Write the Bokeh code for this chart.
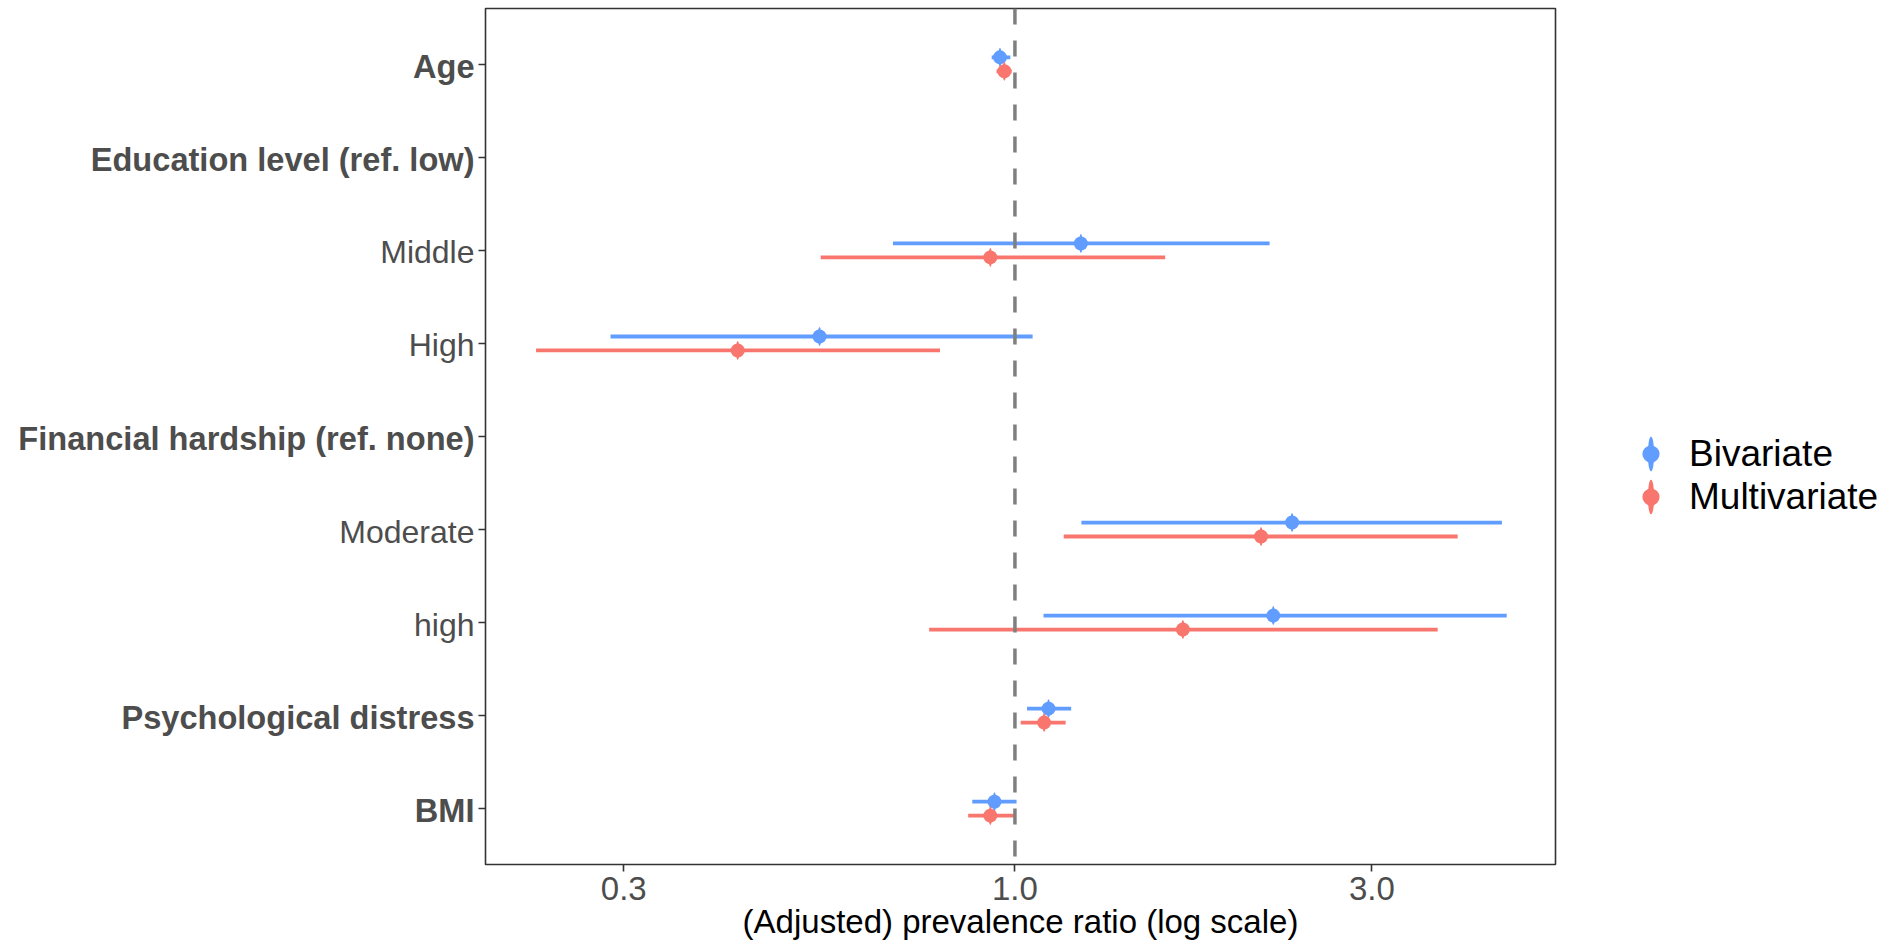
from bokeh.plotting import figure
from bokeh.layouts import row
from bokeh.models import (ColumnDataSource, Range1d, FactorRange, FixedTicker,
                          NumeralTickFormatter, Span, Legend, LegendItem)
from bokeh.core.properties import value
from bokeh.transform import dodge
from bokeh.embed import file_html
from bokeh.resources import INLINE

# ---------------- data ----------------
rows = ["Age", "Education level (ref. low)", "Middle", "High",
        "Financial hardship (ref. none)", "Moderate", "high",
        "Psychological distress", "BMI"]
header_rows = ["Age", "Education level (ref. low)", "Financial hardship (ref. none)",
               "Psychological distress", "BMI"]
sub_rows = ["Middle", "High", "Moderate", "high"]

terms = ["Age", "Middle", "High", "Moderate", "high", "Psychological distress", "BMI"]

biv_pr = [0.955, 1.225, 0.548, 2.347, 2.215, 1.109, 0.939]
biv_lo = [0.931, 0.687, 0.288, 1.227, 1.092, 1.038, 0.877]
biv_hi = [0.986, 2.190, 1.056, 4.477, 4.544, 1.189, 1.005]

mult_pr = [0.968, 0.927, 0.426, 2.133, 1.677, 1.094, 0.927]
mult_lo = [0.945, 0.550, 0.229, 1.162, 0.768, 1.018, 0.866]
mult_hi = [0.990, 1.588, 0.794, 3.907, 3.674, 1.169, 0.999]

x_ticks = [0.3, 1.0, 3.0]
x_limits = (0.196, 5.28)
ref_line = 1.0

BLUE = "#619CFF"
RED = "#F8766D"
FONT = "Liberation Sans"
LABEL_COLOR = "#4D4D4D"

y_range = FactorRange(factors=rows[::-1], range_padding=0.1,
                      range_padding_units="absolute")

# ---------------- label panel (left) ----------------
lab = figure(width=478, frame_height=856, x_range=Range1d(0, 1), y_range=y_range,
             output_backend="svg", toolbar_location=None,
             x_axis_location=None, y_axis_location=None,
             min_border_left=0, min_border_right=0, min_border_top=8,
             min_border_bottom=85)
lab.xgrid.visible = False
lab.ygrid.visible = False
lab.outline_line_color = None

hdr_src = ColumnDataSource(dict(x=[1.0] * len(header_rows), term=header_rows))
sub_src = ColumnDataSource(dict(x=[1.0] * len(sub_rows), term=sub_rows))
lab.text(x="x", y="term", text="term", source=hdr_src, x_offset=-4, y_offset=2,
         text_align="right", text_baseline="middle", text_font=value(FONT),
         text_font_style="bold", text_font_size="32.6px", text_color=LABEL_COLOR)
lab.text(x="x", y="term", text="term", source=sub_src, x_offset=-4, y_offset=2,
         text_align="right", text_baseline="middle", text_font=value(FONT),
         text_font_style="normal", text_font_size="32px", text_color=LABEL_COLOR)

# ---------------- main panel ----------------
p = figure(frame_width=1070, frame_height=856, x_axis_type="log",
           x_range=Range1d(*x_limits), y_range=y_range,
           output_backend="svg", toolbar_location=None,
           min_border_left=7, min_border_right=0,
           min_border_top=8, min_border_bottom=85)

p.xgrid.visible = False
p.ygrid.visible = False
p.outline_line_color = "#333333"
p.outline_line_width = 1.6

p.add_layout(Span(location=ref_line, dimension="height", line_color="#7F7F7F",
                  line_dash="16 16", line_width=3.5))

src_b = ColumnDataSource(dict(term=terms, pr=biv_pr, lo=biv_lo, hi=biv_hi))
src_m = ColumnDataSource(dict(term=terms, pr=mult_pr, lo=mult_lo, hi=mult_hi))

renderers = {}
for name, src, col, off in [("Bivariate", src_b, BLUE, 0.075),
                            ("Multivariate", src_m, RED, -0.075)]:
    yv = dodge("term", off, range=p.y_range)
    p.segment(x0="lo", x1="hi", y0=yv, y1=yv, source=src, line_color=col,
              line_width=3.8)
    c = p.scatter(x="pr", y=yv, source=src, size=14, fill_color=col,
                  line_color=None, marker="circle")
    e = p.ellipse(x="pr", y=yv, width=3.5, height=19, width_units="screen",
                  height_units="screen", source=src, fill_color=col, line_color=None)
    renderers[name] = (e, c)

legend = Legend(items=[LegendItem(label="Bivariate", renderers=list(renderers["Bivariate"])),
                       LegendItem(label="Multivariate", renderers=list(renderers["Multivariate"]))],
                location=(73, 346), glyph_width=45, glyph_height=43, spacing=0,
                padding=0, margin=0, label_standoff=16,
                label_text_font_size="37px", label_text_font=FONT,
                label_text_color="black",
                border_line_color=None, background_fill_alpha=0)
p.add_layout(legend, "right")

# ---------------- axes ----------------
xa = p.xaxis[0]
xa.ticker = FixedTicker(ticks=x_ticks, minor_ticks=[])
xa.formatter = NumeralTickFormatter(format="0.0")
xa.axis_line_color = None
xa.major_tick_line_color = "#333333"
xa.major_tick_line_width = 1.6
xa.major_tick_out = 7
xa.major_tick_in = 0
xa.minor_tick_line_color = None
xa.major_label_text_font = FONT
xa.major_label_text_font_size = "33px"
xa.major_label_text_color = LABEL_COLOR
xa.major_label_standoff = 5
xa.axis_label = "(Adjusted) prevalence ratio (log scale)"
xa.axis_label_text_font = FONT
xa.axis_label_text_font_size = "33px"
xa.axis_label_text_font_style = "normal"
xa.axis_label_text_color = "black"
xa.axis_label_standoff = 0

# y axis: tick marks only (labels are drawn in the left label panel)
ya = p.yaxis[0]
ya.axis_line_color = None
ya.major_tick_line_color = "#333333"
ya.major_tick_line_width = 1.6
ya.major_tick_out = 7
ya.major_tick_in = 0
ya.major_label_overrides = {r: "." for r in rows}
ya.major_label_text_font_size = "1px"
ya.major_label_text_color = None
ya.major_label_standoff = 0

layout = row(lab, p, spacing=0)
open("out.html", "w").write(file_html(layout, INLINE))
